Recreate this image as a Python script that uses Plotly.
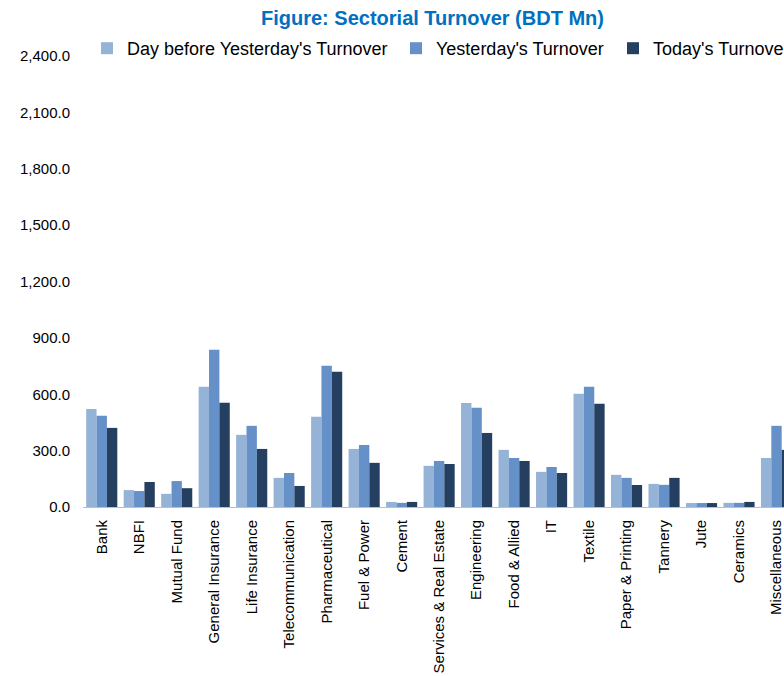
import plotly.graph_objects as go

categories = ["Bank", "NBFI", "Mutual Fund", "General Insurance", "Life Insurance",
              "Telecommunication", "Pharmaceutical", "Fuel & Power", "Cement",
              "Services & Real Estate", "Engineering", "Food & Allied", "IT", "Textile",
              "Paper & Printing", "Tannery", "Jute", "Ceramics", "Miscellaneous"]
day_before = [522, 90, 70, 640, 384, 155, 480, 309, 27, 219, 554, 304, 187, 602, 171, 123, 21, 22, 261]
yesterday = [485, 85, 138, 837, 432, 181, 752, 330, 22, 245, 528, 261, 213, 640, 155, 118, 21, 22, 432]
today = [421, 133, 100, 555, 309, 112, 720, 235, 27, 229, 394, 245, 181, 549, 117, 155, 21, 27, 304]
series_names = ["Day before Yesterday's Turnover", "Yesterday's Turnover", "Today's Turnover"]
colors = ["#95B3D7", "#6591C8", "#253F60"]
legend_widths = [264, 172, 132]

W, H = 784, 676
fig = go.Figure()
for name, vals, col, lw in zip(series_names, [day_before, yesterday, today], colors, legend_widths):
    fig.add_trace(go.Bar(x=categories, y=vals, name=name, marker_color=col,
                         marker_line_width=0, legendwidth=lw))

fig.update_layout(
    width=W, height=H,
    margin=dict(l=83, r=0, t=56, b=169, autoexpand=False),
    paper_bgcolor="white", plot_bgcolor="white",
    font=dict(family="Liberation Sans, Arial, sans-serif", color="#000000"),
    barmode="group", bargap=0.17, bargroupgap=0,
    title=dict(text="<b>Figure: Sectorial Turnover (BDT Mn)</b>",
               font=dict(size=20, color="#0070C0"),
               x=432.5 / W, xref="container", xanchor="center",
               y=1 - 18 / H, yref="container", yanchor="middle"),
    legend=dict(orientation="h", x=(87 - 83) / 701, xanchor="left",
                y=1 - 30 / H, yref="container", yanchor="top",
                font=dict(size=18), bgcolor="rgba(0,0,0,0)",
                traceorder="normal"),
    showlegend=True,
)
fig.update_xaxes(range=[-0.5, 18.2], showgrid=False, showline=True, linecolor="#BFBFBF",
                 linewidth=1, tickangle=-90, tickfont=dict(size=15), ticks="",
                 ticklabelstandoff=6, fixedrange=True)
fig.update_yaxes(range=[0, 2400], tickvals=[0, 300, 600, 900, 1200, 1500, 1800, 2100, 2400],
                 tickformat=",.1f", showgrid=False, zeroline=False, showline=False,
                 tickfont=dict(size=15), ticks="", ticklabelstandoff=12, fixedrange=True)

fig.write_html("out.html")
